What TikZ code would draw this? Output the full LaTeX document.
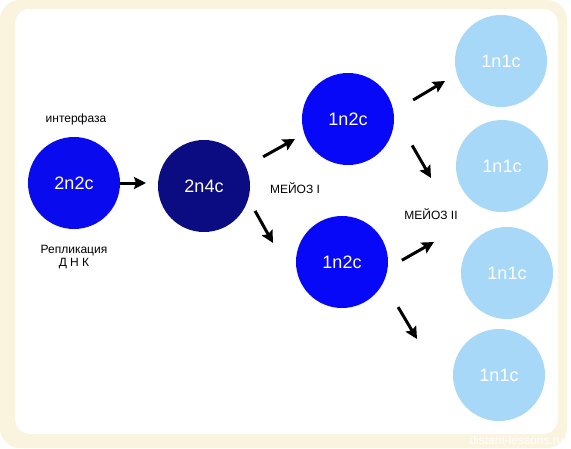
\documentclass[tikz,border=0pt]{standalone}
\usepackage{fontspec}
\setmainfont{Liberation Sans}
\definecolor{FrameBeige}{HTML}{FAF3DE}
\definecolor{DiploidBlue}{HTML}{0A0AEE}
\definecolor{TetradNavy}{HTML}{0C0C82}
\definecolor{MeiosisBlue}{HTML}{0808F8}
\definecolor{GameteBlue}{HTML}{A8D8F8}
\usetikzlibrary{arrows.meta}
\tikzset{
  cellNode/.style={circle, minimum size=92pt, inner sep=0pt, outer sep=0pt, text=white, font=\fontsize{18}{20}\selectfont},
  labelText/.style={align=center, inner sep=0pt, font=\fontsize{12}{13}\selectfont},
  arrowLine/.style={-{Stealth[length=12pt,width=12pt,inset=2pt]}, line width=3pt, draw=black}
}

\begin{document}
\begin{tikzpicture}[x=1pt,y=-1pt]
\useasboundingbox (0,0) rectangle (571,448);
\fill[FrameBeige, rounded corners=20pt] (0,0) rectangle (567,448);
\fill[white, rounded corners=15pt] (15,9) rectangle (558,434);
\node[font=\fontsize{12}{12}\selectfont, text=white, anchor=west] (siteMark) at (466,440) {distant-lessons.ru};

\node[cellNode, fill=DiploidBlue] (zygote) at (74,183) {2n2c};
\node[cellNode, fill=TetradNavy] (tetrad) at (204,186) {2n4c};
\node[cellNode, fill=MeiosisBlue] (upperCell) at (348,119) {1n2c};
\node[cellNode, fill=MeiosisBlue] (lowerCell) at (342,262) {1n2c};
\node[cellNode, fill=GameteBlue] (gameteA) at (501,61) {1n1c};
\node[cellNode, fill=GameteBlue] (gameteB) at (502,166) {1n1c};
\node[cellNode, fill=GameteBlue] (gameteC) at (507,273) {1n1c};
\node[cellNode, fill=GameteBlue] (gameteD) at (499,375) {1n1c};

\node[labelText] (interphase) at (76,119) {интерфаза};
\node[labelText] (replication) at (74,257.5) {Репликация\\Д Н К};
\node[labelText] (meiosisOne) at (295,188) {МЕЙОЗ I};
\node[labelText] (meiosisTwo) at (431,214) {МЕЙОЗ II};

\coordinate (tipA) at (146,183);
\coordinate (tipB) at (295,139);
\coordinate (tipC) at (273,243);
\coordinate (tipD) at (445,81);
\coordinate (tipE) at (431,178);
\coordinate (tipF) at (434,242);
\coordinate (tipG) at (417,339);

\draw[arrowLine] (zygote.east) -- (tipA);
\draw[arrowLine, shorten <=20pt] (tetrad.25) -- (tipB);
\draw[arrowLine, shorten <=14pt] (tetrad.-16) -- (tipC);
\draw[arrowLine, shorten <=23pt] (upperCell.9) -- (tipD);
\draw[arrowLine, shorten <=37pt] (upperCell.7) -- (tipE);
\draw[arrowLine, shorten <=16.5pt] (lowerCell.-8) -- (tipF);
\draw[arrowLine, shorten <=29pt] (lowerCell.-26) -- (tipG);
\end{tikzpicture}
\end{document}
